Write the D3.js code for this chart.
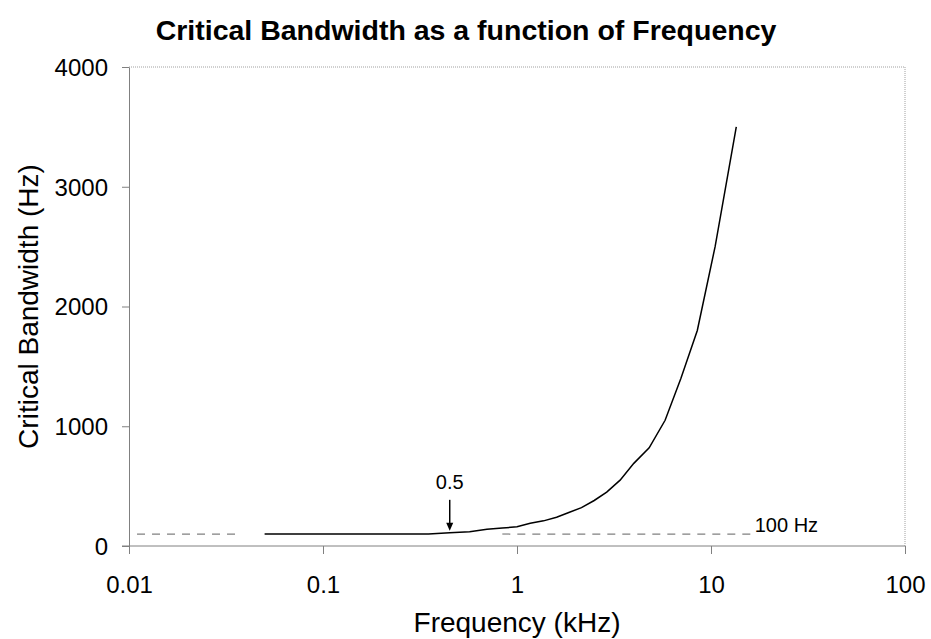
<!DOCTYPE html>
<html>
<head>
<meta charset="utf-8">
<script src="https://cdn.jsdelivr.net/npm/d3@7"></script>
<style>
	body { margin: 0; background: #fff; }
	svg { display: block; font-family: "Liberation Sans", Arial, sans-serif; }
	.axis path, .axis line { stroke: #808080; }
	.axis text { fill: #000; font-size: 24px; }
</style>
</head>
<body>
<div id="chart"></div>
<script>
// Data: frequency (kHz) and critical bandwidth (Hz)
const freqKHz = [0.05, 0.15, 0.25, 0.35, 0.45, 0.57, 0.7, 0.84, 1.0, 1.17, 1.37, 1.6, 1.85, 2.15, 2.5, 2.9, 3.4, 4.0, 4.8, 5.8, 7.0, 8.5, 10.5, 13.5];
const bandwidthHz = [100, 100, 100, 100, 110, 120, 140, 150, 160, 190, 210, 240, 280, 320, 380, 450, 550, 690, 820, 1050, 1400, 1800, 2500, 3500];

const xTicks = [0.01, 0.1, 1, 10, 100];
const yTicks = [0, 1000, 2000, 3000, 4000];

// dashed 100 Hz reference, drawn in two pieces (kHz)
const refLevel = 100;
const refSegments = [[0.011, 0.038], [0.84, 17]];
const refLabel = "100 Hz";

// arrow annotation
const arrowFreq = 0.45;
const arrowValue = 110;
const arrowLabel = "0.5";

// Dimensions
const W = 931, H = 639;
const margin = { top: 67, right: 26, bottom: 93, left: 129 };

const svg = d3.select("#chart").append("svg").attr("width", W).attr("height", H);

const x = d3.scaleLog().domain([0.01, 100]).range([margin.left, W - margin.right]);
const y = d3.scaleLinear().domain([0, 4000]).range([H - margin.bottom, margin.top]);

// top and right border (dotted)
svg.append("path")
	.attr("d", `M${x(0.01)},${y(4000)}H${x(100)}V${y(0)}`)
	.attr("fill", "none")
	.attr("stroke", "#a0a0a0")
	.attr("stroke-dasharray", "1,1");

// x axis
const xAxis = svg.append("g")
	.attr("class", "axis")
	.attr("transform", `translate(0,${y(0)})`)
	.call(d3.axisBottom(x).tickValues(xTicks).tickFormat(d3.format("~g")).tickSize(8).tickSizeOuter(0));
xAxis.select(".domain").remove();
xAxis.append("line")
	.attr("x1", x(0.01) - 7).attr("x2", x(100))
	.attr("stroke", "#808080");
xAxis.selectAll(".tick text").attr("y", 47).attr("dy", null);

// y axis
const yAxis = svg.append("g")
	.attr("class", "axis")
	.attr("transform", `translate(${x(0.01)},0)`)
	.call(d3.axisLeft(y).tickValues(yTicks).tickFormat(d3.format("d")).tickSize(7).tickPadding(14).tickSizeOuter(0));
yAxis.selectAll(".tick text").attr("dy", "0.35em");

// dashed reference line
svg.append("g")
	.selectAll("line")
	.data(refSegments)
	.join("line")
	.attr("x1", (d) => x(d[0]))
	.attr("x2", (d) => x(d[1]))
	.attr("y1", y(refLevel))
	.attr("y2", y(refLevel))
	.attr("stroke", "#808080")
	.attr("stroke-width", 1.2)
	.attr("stroke-dasharray", "8,7");

svg.append("text")
	.attr("x", x(refSegments[1][1]) - 1)
	.attr("y", y(refLevel) - 2)
	.attr("font-size", 20)
	.text(refLabel);

// curve
const line = d3.line()
	.x((d, i) => x(freqKHz[i]))
	.y((d) => y(d));

svg.append("path")
	.attr("d", line(bandwidthHz))
	.attr("fill", "none")
	.attr("stroke", "#000")
	.attr("stroke-width", 1.5);

// arrow annotation
const ax = x(arrowFreq);
const tipY = y(arrowValue) - 2;
svg.append("line")
	.attr("x1", ax).attr("x2", ax)
	.attr("y1", tipY - 31).attr("y2", tipY - 6)
	.attr("stroke", "#000")
	.attr("stroke-width", 1.5);
svg.append("path")
	.attr("d", `M${ax - 3.5},${tipY - 8}L${ax + 3.5},${tipY - 8}L${ax},${tipY}Z`)
	.attr("fill", "#000");
svg.append("text")
	.attr("x", ax)
	.attr("y", tipY - 42)
	.attr("text-anchor", "middle")
	.attr("font-size", 20)
	.text(arrowLabel);

// title and axis labels
svg.append("text")
	.attr("x", 466)
	.attr("y", 40)
	.attr("text-anchor", "middle")
	.attr("font-size", 28.5)
	.attr("font-weight", "bold")
	.text("Critical Bandwidth as a function of Frequency");

svg.append("text")
	.attr("x", (x(0.01) + x(100)) / 2)
	.attr("y", 632)
	.attr("text-anchor", "middle")
	.attr("font-size", 28)
	.text("Frequency (kHz)");

svg.append("text")
	.attr("transform", `translate(38,${(y(0) + y(4000)) / 2}) rotate(-90)`)
	.attr("text-anchor", "middle")
	.attr("font-size", 28)
	.text("Critical Bandwidth (Hz)");
</script>
</body>
</html>
